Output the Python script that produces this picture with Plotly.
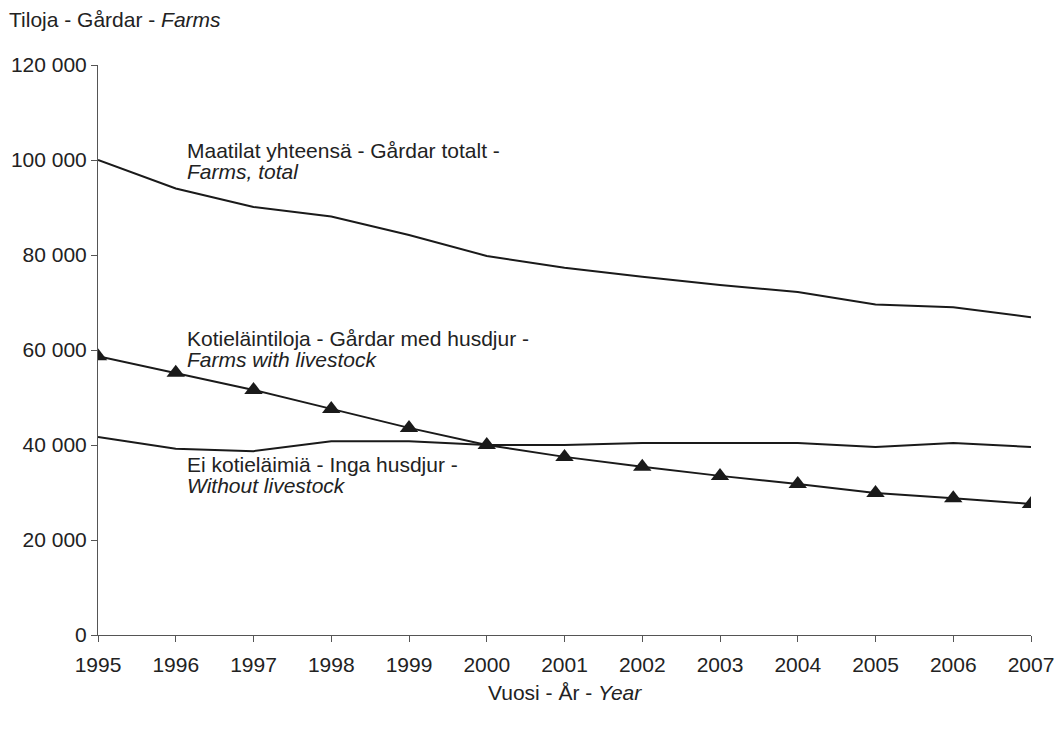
import plotly.graph_objects as go

years = list(range(1995, 2008))
farms_total = [100000, 94000, 90100, 88100, 84200, 79800, 77300, 75400, 73700, 72200, 69600, 69000, 66900]
with_livestock = [58700, 55200, 51600, 47600, 43600, 40000, 37500, 35400, 33500, 31800, 29900, 28800, 27600]
without_livestock = [41700, 39200, 38700, 40800, 40800, 40000, 40000, 40400, 40400, 40400, 39600, 40400, 39600]

y_ticks = [0, 20000, 40000, 60000, 80000, 100000, 120000]
y_labels = ["0", "20 000", "40 000", "60 000", "80 000", "100 000", "120 000"]

# series labels: (line 1, line 2 in italics, y of line 1, y of line 2)
labels = [
    ("Maatilat yhteensä - Gårdar totalt -", "Farms, total", 102100, 97500),
    ("Kotieläintiloja - Gårdar med husdjur -", "Farms with livestock", 62500, 57900),
    ("Ei kotieläimiä - Inga husdjur -", "Without livestock", 36000, 31400),
]

ink = "#1a1a1a"
font = dict(family="Liberation Sans, Arial, sans-serif", size=21, color="#222")

fig = go.Figure()
fig.add_trace(go.Scatter(x=years, y=farms_total, mode="lines",
                         line=dict(color=ink, width=2)))
fig.add_trace(go.Scatter(x=years, y=without_livestock, mode="lines",
                         line=dict(color=ink, width=2)))
fig.add_trace(go.Scatter(x=years, y=with_livestock, mode="lines+markers",
                         line=dict(color=ink, width=2),
                         marker=dict(symbol="triangle-up", size=16, color=ink)))

for l1, l2, y1, y2 in labels:
    fig.add_annotation(x=1996.12, y=y1, xanchor="left", yanchor="middle",
                       showarrow=False, font=font, text=l1)
    fig.add_annotation(x=1996.12, y=y2, xanchor="left", yanchor="middle",
                       showarrow=False, font=font, text="<i>" + l2 + "</i>")

# axis titles
fig.add_annotation(x=-0.097, y=1.079, xref="paper", yref="paper", showarrow=False,
                   xanchor="left", yanchor="middle", font=font,
                   text="Tiloja - Gårdar - <i>Farms</i>")
fig.add_annotation(x=0.5, y=-0.1, xref="paper", yref="paper", showarrow=False,
                   xanchor="center", yanchor="middle", font=font,
                   text="Vuosi - År - <i>Year</i>")

fig.update_xaxes(range=[1995, 2007], tickmode="array", tickvals=years,
                 showgrid=False, zeroline=False, showline=True, linecolor="#555",
                 linewidth=1, ticks="outside", ticklen=6, tickcolor="#555",
                 tickfont=font, ticklabelstandoff=5, ticklabeloverflow="allow")
fig.update_yaxes(range=[0, 120000], tickmode="array", tickvals=y_ticks, ticktext=y_labels,
                 showgrid=False, zeroline=False, showline=True, linecolor="#555",
                 linewidth=1, ticks="outside", ticklen=6, tickcolor="#555",
                 tickfont=font, ticklabeloverflow="allow")

fig.update_layout(width=1056, height=733, showlegend=False,
                  plot_bgcolor="white", paper_bgcolor="white",
                  margin=dict(l=98, r=25, t=65, b=98, autoexpand=False), font=font)

# drop the default body margin so the figure fills the window
fig.write_html("out.html", config={"displayModeBar": False},
               post_script="document.body.style.margin='0';")
